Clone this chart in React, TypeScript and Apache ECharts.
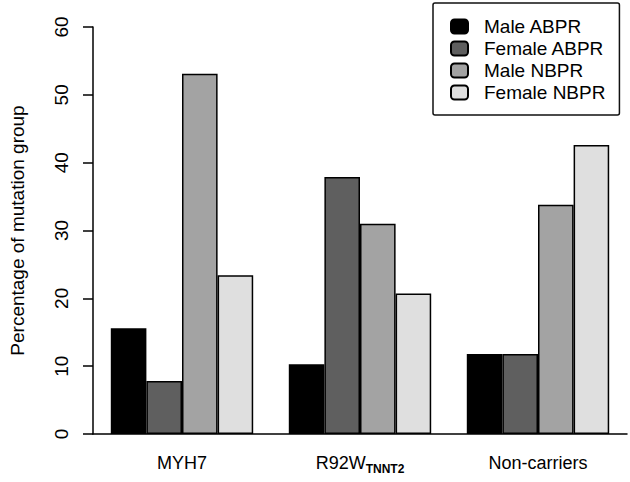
import React, { useEffect, useRef } from "react";
import * as echarts from "echarts";

const categories = ["MYH7", "R92W_TNNT2", "Non-carriers"];
const seriesNames = ["Male ABPR", "Female ABPR", "Male NBPR", "Female NBPR"];
const maleABPR = [15.6, 10.3, 11.8];
const femaleABPR = [7.8, 37.9, 11.8];
const maleNBPR = [53.1, 31.0, 33.8];
const femaleNBPR = [23.4, 20.7, 42.6];
const yTicks = [0, 10, 20, 30, 40, 50, 60];

const seriesValues = [maleABPR, femaleABPR, maleNBPR, femaleNBPR];
const colors = ["#000000", "#5f5f5f", "#a3a3a3", "#dfdfdf"];

const FONT = "'Liberation Sans', Arial, Helvetica, sans-serif";

export default function App() {
  const ref = useRef<HTMLDivElement>(null);
  useEffect(() => {
    if (!ref.current) return;
    const chart = echarts.init(ref.current, null, { renderer: "svg" });
    chart.setOption({
      animation: false,
      backgroundColor: "#ffffff",
      textStyle: { fontFamily: FONT, color: "#000" },
      grid: { left: 88, right: 3, top: 27, bottom: 48, containLabel: false },
      legend: {
        orient: "vertical",
        left: 433,
        top: 3,
        data: seriesNames,
        padding: [13, 14, 12, 17],
        itemWidth: 17,
        itemHeight: 14,
        itemGap: 1,
        icon: "roundRect",
        borderColor: "#111",
        borderWidth: 1.5,
        borderRadius: 2,
        backgroundColor: "#fff",
        selectedMode: false,
        textStyle: {
          fontFamily: FONT,
          fontSize: 19,
          lineHeight: 21,
          color: "#000",
          padding: [0, 0, 0, 11],
        },
      },
      xAxis: {
        type: "category",
        data: categories,
        axisLine: { show: true, lineStyle: { color: "#000", width: 1.5 } },
        axisTick: { show: false },
        axisLabel: {
          interval: 0,
          margin: 20,
          fontFamily: FONT,
          fontSize: 18,
          color: "#000",
          formatter: (v: string) => {
            const parts = v.split("_");
            return parts.length > 1 ? `{a|${parts[0]}}{b|${parts[1]}}` : v;
          },
          rich: {
            a: { fontFamily: FONT, fontSize: 18, color: "#000", verticalAlign: "top", lineHeight: 20 },
            b: {
              fontFamily: FONT,
              fontSize: 12,
              fontWeight: "bold",
              color: "#000",
              verticalAlign: "top",
              lineHeight: 12,
              padding: [9, 0, 0, 0],
            },
          },
        },
      },
      yAxis: {
        type: "value",
        min: 0,
        max: 60,
        interval: 10,
        name: "Percentage of mutation group",
        nameLocation: "middle",
        nameRotate: 90,
        nameGap: 66,
        nameTextStyle: { fontFamily: FONT, fontSize: 19, color: "#000" },
        splitLine: { show: false },
        axisLine: { show: true, lineStyle: { color: "#000", width: 1.5 } },
        axisTick: { show: true, length: 10, lineStyle: { color: "#000", width: 1.5 } },
        axisLabel: {
          rotate: 90,
          margin: 22,
          fontFamily: FONT,
          fontSize: 19,
          color: "#000",
          formatter: (v: number) => (yTicks.includes(v) ? String(v) : ""),
        },
      },
      series: seriesNames.map((name, i) => ({
        name,
        type: "bar",
        data: seriesValues[i],
        barGap: "0%",
        barCategoryGap: "20%",
        itemStyle: { color: colors[i], borderColor: "#000", borderWidth: 1.5 },
      })),
    });
    return () => chart.dispose();
  }, []);
  return <div ref={ref} style={{ width: 630, height: 482, position: "absolute", left: 0, top: 0 }} />;
}
